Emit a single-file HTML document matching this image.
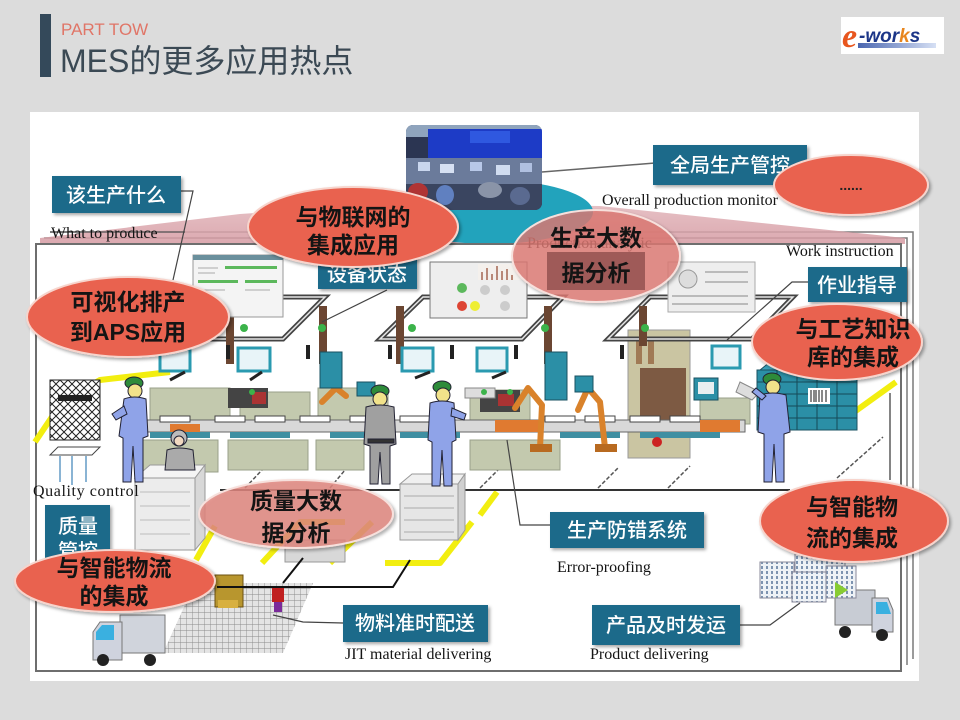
<!DOCTYPE html>
<html><head><meta charset="utf-8">
<style>
html,body{margin:0;padding:0;width:960px;height:720px;overflow:hidden;background:#dcdcdc;}
svg{display:block}
.lbl{font-family:"Liberation Sans","Noto Sans CJK SC",sans-serif;font-size:20px;fill:#fff;font-weight:500;text-anchor:middle}
.ell{font-family:"Liberation Sans","Noto Sans CJK SC",sans-serif;font-size:23px;font-weight:700;fill:#141414;text-anchor:middle}
.en{font-family:"Liberation Serif",serif;font-size:16px;fill:#141414}
</style></head><body>
<svg width="960" height="720" viewBox="0 0 960 720" xmlns="http://www.w3.org/2000/svg">
<defs>
  <filter id="sh" x="-10%" y="-10%" width="125%" height="130%">
    <feDropShadow dx="2" dy="2" stdDeviation="1.5" flood-color="#000" flood-opacity="0.35"/>
  </filter>
  <linearGradient id="beam" x1="0" y1="0" x2="0" y2="1">
    <stop offset="0" stop-color="#e2b6bb"/>
    <stop offset="1" stop-color="#d59aa2"/>
  </linearGradient>
  <linearGradient id="logobar" x1="0" y1="0" x2="1" y2="0">
    <stop offset="0" stop-color="#4a66b0"/>
    <stop offset="1" stop-color="#d6e0f4"/>
  </linearGradient>
  <pattern id="grid" width="6" height="6" patternUnits="userSpaceOnUse">
    <rect width="6" height="6" fill="#e4e4e4"/>
    <path d="M0 0H6M0 0V6" stroke="#8a8a8a" stroke-width="0.9"/>
  </pattern>
  <pattern id="check" width="8" height="8" patternUnits="userSpaceOnUse">
    <rect width="8" height="8" fill="#fff"/>
    <path d="M0 0L8 8M8 0L0 8" stroke="#222" stroke-width="1"/>
  </pattern>
  <pattern id="win" width="5" height="5" patternUnits="userSpaceOnUse">
    <rect width="5" height="5" fill="#eef2f6"/>
    <rect x="1" y="1" width="2" height="3" fill="#7d93b0"/>
  </pattern>
  <clipPath id="photoclip"><rect x="406" y="125" width="136" height="85" rx="7"/></clipPath>
</defs>

<!-- header -->
<rect x="40" y="14" width="11" height="63" fill="#34495a"/>
<text x="61" y="35" font-family="Liberation Sans,sans-serif" font-size="17" fill="#e07567">PART TOW</text>
<text x="60" y="72" font-family="Liberation Sans,'Noto Sans CJK SC',sans-serif" font-size="32" fill="#3b4954">MES的更多应用热点</text>

<!-- logo -->
<rect x="841" y="17" width="103" height="37" fill="#fff"/>
<rect x="858" y="43" width="78" height="5" fill="url(#logobar)"/>
<text x="842" y="47" font-family="Liberation Serif,serif" font-size="34" font-style="italic" font-weight="700" fill="#e8561e">e</text>
<text x="859" y="42" font-family="Liberation Sans,sans-serif" font-size="19" font-style="italic" font-weight="700" fill="#1c3688">-wor<tspan fill="#e8861e">k</tspan>s</text>

<!-- main panel -->
<rect x="30" y="112" width="889" height="569" fill="#fff"/>

<!-- back frames -->
<path d="M50 232 H913 V659" fill="none" stroke="#7a7a7a" stroke-width="1.5"/>
<path d="M44 238 H907 V665" fill="none" stroke="#7a7a7a" stroke-width="1.5"/>

<!-- pink beam -->
<polygon points="40,244 40,238 240,214 400,203 600,206 905,238 905,244" fill="url(#beam)" opacity="0.85"/>
<line x1="50" y1="232" x2="185" y2="232" stroke="#555" stroke-width="1.2"/>

<!-- teal ellipse + photo -->
<ellipse cx="490" cy="212" rx="103" ry="32" fill="#22a3bc"/>
<g clip-path="url(#photoclip)">
  <rect x="406" y="125" width="136" height="85" fill="#2b3552"/>
  <rect x="406" y="125" width="136" height="12" fill="#8fa4bd"/>
  <rect x="428" y="129" width="114" height="30" fill="#1d3bc6"/>
  <rect x="470" y="131" width="40" height="12" fill="#2f58e0"/>
  <rect x="406" y="158" width="136" height="26" fill="#6b7b9b"/>
  <rect x="418" y="162" width="12" height="9" fill="#c9d6ee"/>
  <rect x="440" y="164" width="14" height="9" fill="#d6e0f2"/>
  <rect x="470" y="162" width="12" height="9" fill="#b8c8e8"/>
  <rect x="496" y="165" width="14" height="10" fill="#d0dcf0"/>
  <rect x="520" y="163" width="12" height="9" fill="#b0c0e0"/>
  <rect x="406" y="184" width="136" height="26" fill="#3a4560"/>
  <ellipse cx="418" cy="192" rx="10" ry="9" fill="#b03434"/>
  <ellipse cx="445" cy="195" rx="9" ry="10" fill="#6080c0"/>
  <ellipse cx="490" cy="190" rx="12" ry="8" fill="#8a94a8"/>
  <ellipse cx="520" cy="196" rx="10" ry="9" fill="#5a6a90"/>
</g>
<path d="M542 172 L655 163" stroke="#666" stroke-width="1.5" fill="none"/>

<!-- main frame -->
<rect x="36" y="244" width="865" height="427" fill="none" stroke="#6e6e6e" stroke-width="2"/>

<!-- ===== factory ===== -->
<!-- yellow floor lines -->
<g stroke="#f2ee10" stroke-width="6" fill="none" stroke-linejoin="round">
  <path d="M35 442 L62 402 L100 380 L170 372"/>
  <path d="M196 560 L215 526"/>
  <path d="M262 563 L300 522 L345 522"/>
  <path d="M330 563 L372 522"/>
  <path d="M385 563 L440 563 L472 522"/>
  <path d="M480 515 L497 492"/>
  <path d="M832 428 L896 382"/>
</g>
<!-- floor lines -->
<path d="M220 490 H790" stroke="#333" stroke-width="2"/>
<g stroke="#555" stroke-width="1.5" stroke-dasharray="4 2">
  <path d="M480 488 L500 468"/><path d="M598 488 L618 468"/><path d="M668 488 L690 466"/>
  <path d="M245 488 L262 470"/><path d="M330 488 L345 470"/><path d="M837 478 L883 437"/>
</g>
<path d="M890 393 V480" stroke="#333" stroke-width="1.2"/>

<!-- workstations -->
<g fill="#c3c9ae" stroke="#9aa08a" stroke-width="1">
  <rect x="150" y="388" width="80" height="32"/>
  <rect x="240" y="392" width="70" height="28"/>
  <rect x="318" y="388" width="70" height="32"/>
  <rect x="470" y="390" width="60" height="30"/>
  <rect x="140" y="440" width="78" height="32"/>
  <rect x="228" y="440" width="80" height="30"/>
  <rect x="316" y="440" width="48" height="30"/>
  <rect x="470" y="440" width="90" height="30"/>
  <rect x="700" y="398" width="50" height="26"/>
</g>
<!-- small machines on stations -->
<rect x="228" y="388" width="40" height="20" fill="#444"/>
<rect x="252" y="392" width="14" height="12" fill="#a33"/>
<rect x="480" y="390" width="40" height="22" fill="#444"/>
<rect x="498" y="394" width="16" height="12" fill="#a33"/>
<rect x="465" y="388" width="30" height="10" fill="#ddd" stroke="#888"/>

<!-- brown machine -->
<rect x="628" y="330" width="62" height="128" fill="#cac5a2" stroke="#999"/>
<rect x="640" y="368" width="46" height="52" fill="#7d5a43"/>
<rect x="636" y="338" width="6" height="26" fill="#a07a55"/>
<rect x="648" y="338" width="6" height="26" fill="#a07a55"/>
<rect x="694" y="378" width="24" height="22" fill="#2b8fa6" stroke="#1a5060"/>
<rect x="698" y="382" width="16" height="12" fill="#e8eef0"/>

<!-- conveyor -->
<rect x="140" y="420" width="605" height="12" fill="#d8d8d8" stroke="#666" stroke-width="1"/>
<g fill="#3f8fa2">
  <rect x="150" y="432" width="60" height="6"/><rect x="230" y="432" width="60" height="6"/>
  <rect x="330" y="432" width="50" height="6"/><rect x="400" y="432" width="60" height="6"/>
  <rect x="560" y="432" width="60" height="6"/><rect x="640" y="432" width="80" height="6"/>
</g>
<g fill="#fff" stroke="#444" stroke-width="1">
  <rect x="160" y="416" width="30" height="6"/><rect x="215" y="416" width="30" height="6"/>
  <rect x="255" y="416" width="30" height="6"/><rect x="300" y="416" width="30" height="6"/>
  <rect x="350" y="416" width="30" height="6"/><rect x="400" y="416" width="30" height="6"/>
  <rect x="545" y="416" width="30" height="6"/><rect x="585" y="416" width="30" height="6"/>
  <rect x="630" y="416" width="30" height="6"/><rect x="670" y="416" width="30" height="6"/>
</g>
<g fill="#e07a30">
  <rect x="495" y="420" width="45" height="12"/>
  <rect x="700" y="420" width="40" height="12"/>
  <rect x="170" y="424" width="30" height="8"/>
</g>
<circle cx="657" cy="442" r="5" fill="#c22"/>

<!-- robots -->
<g stroke="#d9822b" stroke-width="6" fill="none" stroke-linecap="round" stroke-linejoin="round">
  <path d="M540 448 L542 405 L528 388 L515 408"/>
  <path d="M605 448 L600 402 L588 388 L578 410"/>
  <path d="M322 402 L336 388 L346 396"/>
</g>
<rect x="530" y="444" width="22" height="8" fill="#b86a20"/>
<rect x="595" y="444" width="22" height="8" fill="#b86a20"/>

<!-- gantries -->
<g stroke="#444" stroke-width="5" fill="none">
  <path d="M120 297 H325 L283 339 H78"/>
  <path d="M423 297 H563 L522 339 H380 Z"/>
  <path d="M650 297 H793 L752 339 H608 Z"/>
</g>
<g stroke="#e6e6e6" stroke-width="1.5" fill="none">
  <path d="M120 297 H325 L283 339 H78"/>
  <path d="M423 297 H563 L522 339 H380 Z"/>
  <path d="M650 297 H793 L752 339 H608 Z"/>
</g>
<!-- pillars -->
<g fill="#6b4632">
  <rect x="226" y="306" width="8" height="58"/><rect x="319" y="306" width="8" height="58"/>
  <rect x="396" y="306" width="8" height="58"/><rect x="544" y="306" width="8" height="58"/>
  <rect x="639" y="306" width="8" height="40"/>
</g>
<g fill="#3bb34a">
  <circle cx="244" cy="328" r="4"/><circle cx="322" cy="328" r="4"/><circle cx="412" cy="328" r="4"/>
  <circle cx="545" cy="328" r="4"/><circle cx="645" cy="328" r="4"/>
  <circle cx="252" cy="392" r="3"/><circle cx="484" cy="392" r="3"/><circle cx="510" cy="392" r="3"/>
</g>
<!-- hanging devices -->
<g fill="#222">
  <rect x="226" y="345" width="4" height="14"/><rect x="306" y="345" width="4" height="14"/>
  <rect x="388" y="345" width="4" height="14"/><rect x="450" y="345" width="4" height="14"/>
  <rect x="514" y="345" width="4" height="14"/><rect x="620" y="345" width="4" height="14"/>
</g>
<!-- monitors -->
<g fill="#e8f4f8" stroke="#2a9ab0" stroke-width="3">
  <rect x="160" y="349" width="30" height="22"/><rect x="238" y="348" width="32" height="23"/>
  <rect x="402" y="348" width="31" height="23"/><rect x="477" y="348" width="30" height="23"/>
  <rect x="712" y="346" width="28" height="22"/>
</g>
<path d="M170 380 L185 372 M250 380 L262 372 M415 378 L430 372 M492 378 L506 372" stroke="#222" stroke-width="3"/>
<!-- teal cabinets -->
<rect x="320" y="352" width="22" height="36" fill="#2b8fa6" stroke="#1a5060"/>
<rect x="545" y="352" width="22" height="48" fill="#2b8fa6" stroke="#1a5060"/>
<rect x="575" y="376" width="18" height="16" fill="#2b8fa6" stroke="#1a5060"/>
<rect x="357" y="382" width="18" height="14" fill="#2b8fa6" stroke="#1a5060"/>

<!-- dashboards -->
<rect x="193" y="255" width="90" height="62" fill="#f4f4f4" stroke="#999"/>
<rect x="193" y="255" width="90" height="5" fill="#6a8f9c"/>
<rect x="225" y="266" width="52" height="3" fill="#5cb85c"/>
<rect x="198" y="280" width="40" height="3" fill="#5cb85c"/>
<rect x="245" y="280" width="32" height="3" fill="#5cb85c"/>
<path d="M198 268 H218 M198 273 H215 M198 290 H225 M245 290 H270 M198 300 H210" stroke="#aaa" stroke-width="1"/>
<rect x="430" y="262" width="97" height="56" fill="#eeeeee" stroke="#777"/>
<rect x="478" y="264" width="46" height="16" fill="#f4f0ec"/>
<path d="M482 280 V272 M487 280 V268 M492 280 V274 M497 280 V266 M502 280 V271 M507 280 V269 M512 280 V275" stroke="#b88878" stroke-width="2"/>
<circle cx="462" cy="288" r="5" fill="#5cb85c"/><circle cx="485" cy="290" r="5" fill="#ccc"/><circle cx="505" cy="290" r="5" fill="#ccc"/>
<circle cx="462" cy="306" r="5" fill="#d43"/><circle cx="475" cy="306" r="5" fill="#ee3"/><circle cx="505" cy="306" r="5" fill="#ccc"/>
<rect x="668" y="262" width="87" height="50" fill="#eeeeee" stroke="#aaa"/>
<circle cx="688" cy="279" r="9" fill="#ddd" stroke="#999"/>
<path d="M705 272 H748 M705 282 H748 M672 296 H748 M672 304 H748" stroke="#bbb" stroke-width="2"/>

<!-- quality-control machine -->
<rect x="50" y="380" width="50" height="60" fill="url(#check)" stroke="#222"/>
<rect x="58" y="395" width="34" height="6" fill="#222"/>
<path d="M58 447 H100 L92 455 H50 Z" fill="#fff" stroke="#444"/>
<path d="M60 456 V482 M72 456 V485 M86 456 V482" stroke="#8ab4d4" stroke-width="2"/>

<!-- rack right -->
<path d="M770 362 H862 L857 370 H760 Z" fill="#3aa0b8" stroke="#1a5060"/>
<rect x="757" y="370" width="100" height="60" fill="#2b8fa6" stroke="#1a5060"/>
<path d="M757 382 H857 M757 394 H857 M757 406 H857 M757 418 H857 M777 370 V430 M797 370 V430 M817 370 V430 M837 370 V430" stroke="#164a58" stroke-width="1"/>
<rect x="808" y="388" width="22" height="16" fill="#fff"/>
<path d="M811 390 V402 M814 390 V402 M816 390 V402 M819 390 V402 M822 390 V402 M826 390 V402" stroke="#111" stroke-width="1"/>
<path d="M740 382 L760 392 L752 400 L736 392 Z" fill="#ddd" stroke="#888"/>

<!-- carts -->
<path d="M135 478 L150 465 H205 L195 478 Z" fill="#f4f4f4" stroke="#999"/>
<rect x="135" y="478" width="60" height="72" fill="#ececec" stroke="#999"/>
<path d="M195 478 L205 465 V538 L195 550 Z" fill="#d8d8d8" stroke="#999"/>
<path d="M140 492 H190 M140 506 H190 M140 520 H190 M140 534 H190" stroke="#bbb"/>
<path d="M400 484 L412 474 H465 L458 484 Z" fill="#f0f0f0" stroke="#999"/>
<rect x="400" y="484" width="58" height="56" fill="#e6e6e6" stroke="#999"/>
<path d="M458 484 L465 474 V530 L458 540 Z" fill="#d0d0d0" stroke="#999"/>
<path d="M404 496 H454 M404 508 H454 M404 520 H454 M404 532 H454" stroke="#aaa"/>
<rect x="285" y="540" width="60" height="22" fill="#d8d8d8" stroke="#999"/>

<!-- workers -->
<g stroke="#223" stroke-width="1">
  <g transform="translate(112,376)">
    <ellipse cx="22" cy="7" rx="9" ry="6" fill="#2e8b3a"/><circle cx="23" cy="15" r="7" fill="#f1e28a"/>
    <path d="M12 23 Q22 19 34 23 L36 60 L31 62 L31 106 L23 106 L21 70 L19 106 L11 106 L11 62 L7 60 Z" fill="#8fa3e8"/>
    <path d="M12 30 L0 38 L4 44 L15 38 Z" fill="#8fa3e8"/>
  </g>
  <g transform="translate(360,384)" >
    <ellipse cx="20" cy="7" rx="9" ry="6" fill="#2e8b3a"/><circle cx="20" cy="15" r="7" fill="#f1e28a"/>
    <path d="M6 23 Q20 19 34 23 L36 60 L30 62 L30 100 L22 100 L20 68 L18 100 L10 100 L10 62 L4 60 Z" fill="#a0a0a0"/>
    <rect x="8" y="55" width="26" height="4" fill="#333"/>
  </g>
  <g transform="translate(426,380)">
    <ellipse cx="16" cy="7" rx="9" ry="6" fill="#2e8b3a"/><circle cx="17" cy="15" r="7" fill="#f1e28a"/>
    <path d="M4 23 Q16 19 28 23 L30 60 L26 62 L26 106 L18 106 L16 70 L14 106 L6 106 L6 62 L2 60 Z" fill="#8fa3e8"/>
    <path d="M26 28 L40 34 L38 40 L25 36 Z" fill="#8fa3e8"/>
  </g>
  <g transform="translate(756,372)">
    <ellipse cx="16" cy="7" rx="9" ry="6" fill="#2e8b3a"/><circle cx="17" cy="15" r="7" fill="#f1e28a"/>
    <path d="M4 23 Q16 19 30 23 L34 60 L28 62 L28 110 L20 110 L18 72 L16 110 L8 110 L8 62 L2 60 Z" fill="#8fa3e8"/>
    <path d="M6 28 L-4 20 L0 16 L10 24 Z" fill="#8fa3e8"/>
  </g>
  <g transform="translate(163,428)">
    <circle cx="16" cy="10" r="8" fill="#bbb"/><circle cx="16" cy="13" r="5" fill="#f0d8c0"/>
    <path d="M4 22 Q16 18 30 22 L32 42 H2 Z" fill="#aaa"/>
  </g>
</g>

<!-- grid floor, box, machine -->
<polygon points="163,653 195,583 313,583 283,653" fill="url(#grid)"/>
<rect x="215" y="575" width="28" height="32" fill="#b8962e" stroke="#6b5010"/>
<rect x="218" y="600" width="20" height="8" fill="#d8b040"/>
<rect x="272" y="588" width="12" height="14" fill="#c02020"/>
<rect x="274" y="602" width="8" height="10" fill="#7a2a9a"/>

<!-- trucks -->
<rect x="120" y="615" width="45" height="38" fill="#d0d4dc" stroke="#777"/>
<path d="M93 632 L100 622 H122 V660 H93 Z" fill="#cfd3de" stroke="#777"/>
<path d="M96 632 L102 625 H114 V640 H96 Z" fill="#3ab0e0"/>
<circle cx="103" cy="660" r="6" fill="#222"/><circle cx="150" cy="660" r="6" fill="#222"/>
<rect x="835" y="590" width="40" height="35" fill="#c8ccd4" stroke="#777"/>
<path d="M872 598 H888 L893 610 V632 H872 Z" fill="#cfd3de" stroke="#777"/>
<path d="M876 602 H887 L891 614 H876 Z" fill="#3ab0e0"/>
<circle cx="845" cy="632" r="6" fill="#222"/><circle cx="882" cy="635" r="6" fill="#222"/>

<!-- buildings -->
<rect x="795" y="548" width="50" height="40" fill="url(#win)" stroke="#889"/>
<rect x="760" y="562" width="34" height="36" fill="url(#win)" stroke="#889"/>
<rect x="792" y="572" width="34" height="30" fill="url(#win)" stroke="#889"/>
<rect x="826" y="566" width="30" height="32" fill="url(#win)" stroke="#889"/>
<path d="M835 582 L848 590 L835 598 Z" fill="#8c3"/>

<!-- connectors -->
<g stroke="#444" stroke-width="1.2" fill="none">
  <path d="M181 191 H193 L173 280"/>
  <path d="M808 282 H792 L727 340"/>
  <path d="M387 290 L322 322"/>
  <path d="M550 525 H520 L507 440"/>
  <path d="M343 623 L303 622 L273 615"/>
  <path d="M740 625 H770 L800 603"/>
</g>
<g stroke="#111" stroke-width="2" fill="none">
  <path d="M217 587 H393 L410 560"/>
  <path d="M283 583 L303 558"/>
</g>

<!-- label boxes -->
<g filter="url(#sh)" fill="#1f6a8a">
  <rect x="653" y="145" width="154" height="40"/>
  <rect x="52" y="176" width="129" height="37"/>
  <rect x="318" y="255" width="99" height="34"/>
  <rect x="808" y="267" width="99" height="35"/>
  <rect x="550" y="512" width="154" height="36"/>
  <rect x="45" y="505" width="65" height="62"/>
  <rect x="343" y="605" width="145" height="37"/>
  <rect x="592" y="605" width="148" height="40"/>
</g>
<text class="lbl" x="730" y="172">全局生产管控</text>
<text class="lbl" x="116" y="202">该生产什么</text>
<text class="lbl" x="367" y="281">设备状态</text>
<text class="lbl" x="857" y="292">作业指导</text>
<text class="lbl" x="627" y="537">生产防错系统</text>
<text class="lbl" x="78" y="533">质量</text>
<text class="lbl" x="78" y="558">管控</text>
<text class="lbl" x="415" y="630">物料准时配送</text>
<text class="lbl" x="666" y="632">产品及时发运</text>

<!-- english captions -->
<text class="en" x="602" y="205">Overall production monitor</text>
<text class="en" x="51" y="238">What to produce</text>
<text class="en" x="786" y="256">Work instruction</text>
<text class="en" x="33" y="496" letter-spacing="0.6">Quality control</text>
<text class="en" x="557" y="572">Error-proofing</text>
<text class="en" x="345" y="659">JIT material delivering</text>
<text class="en" x="590" y="659">Product delivering</text>
<text class="en" x="527" y="248" font-size="18" fill="#8a4040">Production analytic</text>

<!-- ellipses -->
<g filter="url(#sh)" stroke="#f7d4cc" stroke-width="2">
  <ellipse cx="851" cy="185" rx="77" ry="30" fill="#e9624f"/>
  <ellipse cx="353" cy="227" rx="105" ry="40" fill="#e9624f"/>
  <ellipse cx="128" cy="317" rx="101" ry="40" fill="#e9624f"/>
  <ellipse cx="837" cy="342" rx="85" ry="38" fill="#e9624f"/>
  <ellipse cx="854" cy="521" rx="94" ry="41" fill="#e9624f"/>
  <ellipse cx="115" cy="581" rx="100" ry="31" fill="#e9624f"/>
</g>
<ellipse cx="596" cy="256" rx="84" ry="46" fill="#e07a74" fill-opacity="0.78" stroke="#f7e0dc" stroke-width="2" filter="url(#sh)"/>
<rect x="547" y="252" width="98" height="38" fill="#8a4a48" opacity="0.75"/>
<ellipse cx="296" cy="514" rx="97" ry="34" fill="#e28880" fill-opacity="0.82" stroke="#f7e0dc" stroke-width="2" filter="url(#sh)"/>

<text x="851" y="190" font-family="Liberation Sans,sans-serif" font-size="14" fill="#222" text-anchor="middle" font-weight="700">......</text>
<text class="ell" x="353" y="225">与物联网的</text>
<text class="ell" x="353" y="253">集成应用</text>
<text class="ell" x="128" y="310">可视化排产</text>
<text class="ell" x="128" y="340">到APS应用</text>
<text class="ell" x="853" y="337" font-size="24">与工艺知识</text>
<text class="ell" x="853" y="365" font-size="24">库的集成</text>
<text class="ell" x="852" y="515" font-size="24">与智能物</text>
<text class="ell" x="852" y="546" font-size="24">流的集成</text>
<text class="ell" x="114" y="576" font-size="24">与智能物流</text>
<text class="ell" x="114" y="604" font-size="24">的集成</text>
<text class="ell" x="596" y="246" font-size="24">生产大数</text>
<text class="ell" x="596" y="281" font-size="24">据分析</text>
<text class="ell" x="296" y="509" font-size="25">质量大数</text>
<text class="ell" x="296" y="541" font-size="25">据分析</text>
</svg>
</body></html>
